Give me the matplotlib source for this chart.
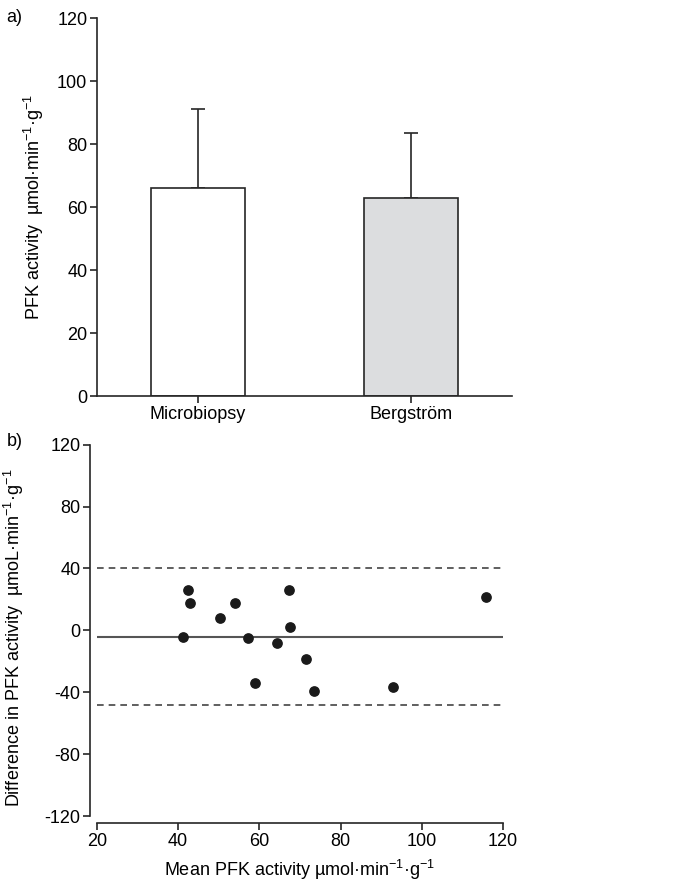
import matplotlib
matplotlib.use("Agg")
import matplotlib.pyplot as plt

plt.rcParams['font.family'] = ['Liberation Sans', 'DejaVu Sans']
plt.rcParams['mathtext.fontset'] = 'custom'
plt.rcParams['mathtext.rm'] = 'Liberation Sans'
plt.rcParams['mathtext.it'] = 'Liberation Sans'
plt.rcParams['axes.unicode_minus'] = False
plt.rcParams['font.size'] = 13

# panel a: group means with SD
groups = ['Microbiopsy', 'Bergström']
means = [66, 63]
sds = [25, 20.5]
bar_colors = ['white', '#dcdddf']

# panel b: Bland-Altman
mean_pfk = [42.3, 42.8, 41.3, 50.3, 53.9, 57.1, 58.9, 64.4, 67.3, 67.5, 71.6, 73.5, 92.9, 115.8]
diff_pfk = [25.9, 17.4, -4.5, 7.8, 17.4, -5.2, -34.3, -8.4, 25.9, 1.9, -18.7, -39.4, -36.8, 21.5]
bias = -4.1
loa_upper = 40.1
loa_lower = -48.3

fig = plt.figure(figsize=(6.73, 8.86), dpi=100)
ink = '#262626'

# ---- a)
ax1 = fig.add_axes([0.1441, 0.5530, 0.6167, 0.4266])
x = range(len(groups))
ax1.bar(x, means, width=0.44, color=bar_colors, edgecolor=ink, linewidth=1.2, zorder=2)
ax1.errorbar(x, means, yerr=[[0, 0], sds], fmt='none', ecolor=ink, elinewidth=1.2,
             capsize=5, capthick=1.2, zorder=1)
ax1.set_xlim(-0.475, 1.475)
ax1.set_ylim(0, 120)
ax1.set_yticks([0, 20, 40, 60, 80, 100, 120])
ax1.set_xticks(list(x))
ax1.set_xticklabels(groups)
ax1.set_ylabel(r'PFK activity  µmol·min$^{-1}$·g$^{-1}$', labelpad=8)
for s in ['top', 'right']:
    ax1.spines[s].set_visible(False)
for s in ['left', 'bottom']:
    ax1.spines[s].set_color(ink)
    ax1.spines[s].set_linewidth(1.2)
ax1.tick_params(direction='out', length=5, width=1.2, color=ink, pad=2)
fig.text(0.010, 0.975, 'a)', fontsize=13)

# ---- b)
ax2 = fig.add_axes([0.1441, 0.0790, 0.6033, 0.4191])
ax2.axhline(bias, color='#555555', linewidth=1.5, zorder=1)
ax2.axhline(loa_upper, color='#444444', linewidth=1.2, linestyle=(0, (4, 3)), zorder=1)
ax2.axhline(loa_lower, color='#444444', linewidth=1.2, linestyle=(0, (4, 3)), zorder=1)
ax2.scatter(mean_pfk, diff_pfk, s=45, color='#1a1a1a', zorder=3)
ax2.set_xlim(20, 120)
ax2.set_ylim(-120, 120)
ax2.set_xticks([20, 40, 60, 80, 100, 120])
ax2.set_yticks([-120, -80, -40, 0, 40, 80, 120])
ax2.set_xlabel(r'Mean PFK activity µmol·min$^{-1}$·g$^{-1}$', labelpad=6)
ax2.set_ylabel(r'Difference in PFK activity  µmoL·min$^{-1}$·g$^{-1}$', labelpad=4)
ax2.yaxis.set_label_coords(-0.175, 0.48)
for s in ['top', 'right']:
    ax2.spines[s].set_visible(False)
for s in ['left', 'bottom']:
    ax2.spines[s].set_position(('outward', 5))
    ax2.spines[s].set_color(ink)
    ax2.spines[s].set_linewidth(1.2)
ax2.tick_params(direction='out', length=5, width=1.2, color=ink, pad=2)
fig.text(0.010, 0.497, 'b)', fontsize=13)

fig.savefig('out.png', dpi=100)
